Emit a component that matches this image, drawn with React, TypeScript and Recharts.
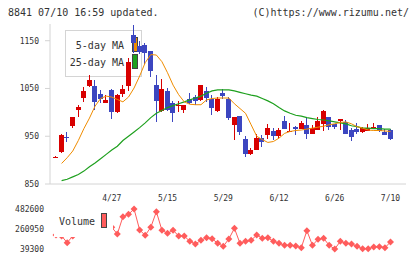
import React from 'react';
import { ComposedChart, Bar, Line, XAxis, YAxis } from 'recharts';

// daily candles, 4/13 .. 7/10
const open = [906, 916, 948, 972, 1004, 1031, 1056, 1056, 1039, 1020, 1046, 1000, 1039, 1056, 1162, 1139, 1141, 1129, 1058, 1002, 1045, 1019, 1014, 1004, 1028, 1032, 1025, 1045, 1028, 1002, 1041, 1028, 974, 992, 944, 913, 921, 946, 953, 962, 951, 982, 961, 969, 965, 974, 955, 963, 976, 990, 976, 982, 980, 963, 965, 958, 962, 965, 974, 958, 963];
const high = [908, 954, 958, 991, 1016, 1054, 1078, 1068, 1047, 1037, 1049, 1038, 1057, 1113, 1183, 1150, 1145, 1129, 1078, 1069, 1050, 1024, 1024, 1016, 1040, 1037, 1058, 1054, 1037, 1032, 1049, 1032, 990, 993, 951, 926, 955, 953, 976, 967, 967, 992, 977, 972, 981, 988, 974, 990, 1005, 990, 976, 986, 983, 967, 977, 970, 976, 977, 974, 965, 965];
const low = [905, 914, 938, 969, 991, 1022, 1052, 1006, 1019, 1020, 986, 999, 1032, 1044, 1125, 1122, 1100, 1075, 979, 1000, 1002, 979, 1000, 1000, 1017, 1017, 1025, 1023, 995, 1000, 1028, 984, 942, 953, 907, 911, 921, 928, 944, 942, 946, 965, 960, 953, 965, 944, 955, 962, 962, 963, 966, 963, 953, 939, 955, 957, 961, 964, 960, 952, 942];
const close = [907, 953, 947, 990, 1011, 1044, 1067, 1021, 1028, 1026, 1000, 1037, 1049, 1106, 1145, 1127, 1125, 1086, 1023, 1049, 1004, 998, 1016, 1016, 1019, 1023, 1057, 1030, 1010, 1028, 1035, 989, 990, 958, 912, 921, 946, 937, 967, 951, 963, 965, 962, 965, 977, 955, 967, 982, 1003, 970, 970, 986, 955, 949, 958, 967, 967, 970, 961, 953, 944];

const ma5 = [null, 893, 905, 919, 941, 966, 988, 1013, 1029, 1034, 1032, 1027, 1022, 1032, 1051, 1076, 1104, 1121, 1120, 1106, 1083, 1057, 1037, 1022, 1017, 1016, 1016, 1026, 1029, 1030, 1030, 1030, 1018, 1008, 998, 974, 950, 943, 937, 939, 946, 956, 960, 962, 963, 965, 967, 969, 971, 974, 976, 979, 980, 976, 970, 967, 963, 962, 962, 961, 960];
const ma25 = [null, 857, 860, 865, 870, 877, 886, 894, 903, 912, 921, 929, 941, 950, 959, 968, 978, 989, 998, 1004, 1010, 1014, 1018, 1022, 1026, 1030, 1034, 1040, 1045, 1047, 1047, 1047, 1045, 1042, 1039, 1036, 1034, 1029, 1024, 1018, 1010, 1003, 998, 994, 992, 989, 987, 985, 984, 982, 980, 978, 976, 972, 970, 967, 967, 966, 966, 965, 965];

const volume = [194500, 183400, 109100, 183400, 260000, 300000, 280000, 320000, 240000, 230000, 280000, 205500, 397300, 423900, 482600, 249900, 191100, 279800, 452700, 246500, 213300, 246500, 183400, 183400, 124600, 94700, 135700, 164500, 153400, 102500, 69200, 150100, 268700, 102500, 124600, 135700, 194500, 157900, 164500, 124600, 102500, 80300, 80300, 72500, 53700, 242100, 80300, 146800, 157900, 80300, 39300, 124600, 102500, 94700, 69200, 42600, 42600, 61500, 64800, 53700, 116900];

const dateTicks = [10, 20, 30, 40, 50, 60];
const dateLabels = ['4/27', '5/15', '5/29', '6/12', '6/26', '7/10'];
const priceTicks = [850, 950, 1050, 1150];
const volumeTicks = [39300, 260950, 482600];

const rows = open.map((o, i) => ({
  i,
  open: o,
  high: high[i],
  low: low[i],
  close: close[i],
  ma5: ma5[i],
  ma25: ma25[i],
  volume: volume[i],
}));

const X_MIN = -1.08;
const X_MAX = 62.78;
// 11 equal divisions along the time axis
const gridTicks = Array.from({ length: 12 }, (_, k) => X_MIN + (k * (X_MAX - X_MIN)) / 11);

const UP = '#d80000';
const DOWN = '#3c46c0';
const VOL = '#ff5c5c';
const AXIS = '#d4d4d4';
const MONO = '"DejaVu Sans Mono", monospace';

const Candle = (props: any) => {
  const { x, y, width, height, payload } = props;
  const { open: o, close: c, high: h, low: l } = payload;
  const top = Math.min(y, y + height);
  const span = Math.abs(height);
  const py = (v: number) => top + ((h - v) / (h - l)) * span;
  const left = Math.round(x + width / 2 - 2.5);
  const color = c >= o ? UP : DOWN;
  const bTop = Math.round(py(Math.max(o, c)));
  const bBot = Math.round(py(Math.min(o, c)));
  return (
    <g shapeRendering="crispEdges">
      <rect x={left + 2} y={Math.round(top)} width={1} height={Math.max(1, Math.round(span))} fill={color} />
      <rect x={left} y={bTop} width={5} height={Math.max(1, bBot - bTop)} fill={color} />
    </g>
  );
};

const Diamond = (props: any) => {
  const { cx, cy } = props;
  if (cx == null || cy == null) return null;
  return (
    <polygon
      points={`${cx},${cy - 3.5} ${cx + 3.5},${cy} ${cx},${cy + 3.5} ${cx - 3.5},${cy}`}
      fill={VOL}
    />
  );
};

const tickFont = { fontSize: 8, fontFamily: MONO, fill: '#333' };

export default function App() {
  return (
    <div style={{ position: 'absolute', left: 0, top: 0, width: 420, height: 259, background: '#fff', fontFamily: MONO, color: '#333' }}>
      <div style={{ position: 'absolute', left: 8, top: 7, fontSize: 10, lineHeight: '12px' }}>8841 07/10 16:59 updated.</div>
      <div style={{ position: 'absolute', right: 11, top: 7, fontSize: 10, lineHeight: '12px' }}>(C)https://www.rizumu.net/</div>

      {/* MA legend sits underneath the candles */}
      <div style={{ position: 'absolute', left: 65, top: 30, width: 77, height: 47, boxSizing: 'border-box', border: `1px solid ${AXIS}`, background: '#fff', fontSize: 10 }}>
        <div style={{ position: 'absolute', right: 17, top: 9, lineHeight: '12px' }}>5-day MA</div>
        <div style={{ position: 'absolute', left: 66, top: 6, width: 6, height: 15, boxSizing: 'border-box', border: '1px solid #444', background: '#f08c00' }} />
        <div style={{ position: 'absolute', right: 17, top: 26, lineHeight: '12px' }}>25-day MA</div>
        <div style={{ position: 'absolute', left: 66, top: 23, width: 6, height: 15, boxSizing: 'border-box', border: '1px solid #444', background: '#1ea01e' }} />
      </div>

      <ComposedChart
        width={420}
        height={259}
        data={rows}
        margin={{ top: 24, right: 14, bottom: 55, left: 10 }}
        style={{ position: 'absolute', left: 0, top: 0 }}
      >
        <XAxis
          xAxisId="grid"
          dataKey="i"
          type="number"
          domain={[X_MIN, X_MAX]}
          allowDataOverflow
          ticks={gridTicks}
          interval={0}
          height={0}
          axisLine={false}
          tickLine={{ stroke: AXIS }}
          tickSize={5}
          tickFormatter={() => ''}
        />
        <XAxis
          dataKey="i"
          type="number"
          domain={[X_MIN, X_MAX]}
          allowDataOverflow
          ticks={dateTicks}
          interval={0}
          height={20}
          axisLine={{ stroke: AXIS }}
          tickLine={false}
          tickSize={0}
          tickMargin={11}
          tick={tickFont}
          tickFormatter={(v: number) => dateLabels[dateTicks.indexOf(v)] ?? ''}
        />
        <YAxis
          type="number"
          domain={[850, 1185]}
          allowDataOverflow
          ticks={priceTicks}
          interval={0}
          width={40}
          axisLine={{ stroke: AXIS }}
          tickLine={{ stroke: AXIS }}
          tickSize={5}
          tickMargin={6}
          tick={tickFont}
        />
        <Line dataKey="ma25" stroke="#1ea01e" strokeWidth={1.2} dot={false} isAnimationActive={false} />
        <Line dataKey="ma5" stroke="#f08c00" strokeWidth={1} dot={false} isAnimationActive={false} />
        <Bar dataKey={(d: any) => [d.low, d.high]} barSize={5} shape={Candle} isAnimationActive={false} />
      </ComposedChart>

      <ComposedChart
        width={420}
        height={259}
        data={rows}
        margin={{ top: 209, right: 14, bottom: 10, left: 10 }}
        style={{ position: 'absolute', left: 0, top: 0 }}
      >
        <XAxis dataKey="i" type="number" domain={[X_MIN, X_MAX]} allowDataOverflow hide />
        <YAxis
          type="number"
          domain={[39300, 482600]}
          ticks={volumeTicks}
          interval={0}
          width={40}
          axisLine={false}
          tickLine={false}
          tickSize={0}
          tickMargin={6}
          tick={tickFont}
        />
        <Line dataKey="volume" stroke={VOL} strokeWidth={1} dot={<Diamond />} isAnimationActive={false} />
      </ComposedChart>

      {/* volume legend covers the line behind it */}
      <div style={{ position: 'absolute', left: 54, top: 204, width: 59, height: 33, background: '#fff', fontSize: 10 }}>
        <div style={{ position: 'absolute', left: 5, top: 12, lineHeight: '12px' }}>Volume</div>
        <div style={{ position: 'absolute', left: 47, top: 9, width: 6, height: 15, boxSizing: 'border-box', border: '1px solid #444', background: VOL }} />
      </div>
    </div>
  );
}
